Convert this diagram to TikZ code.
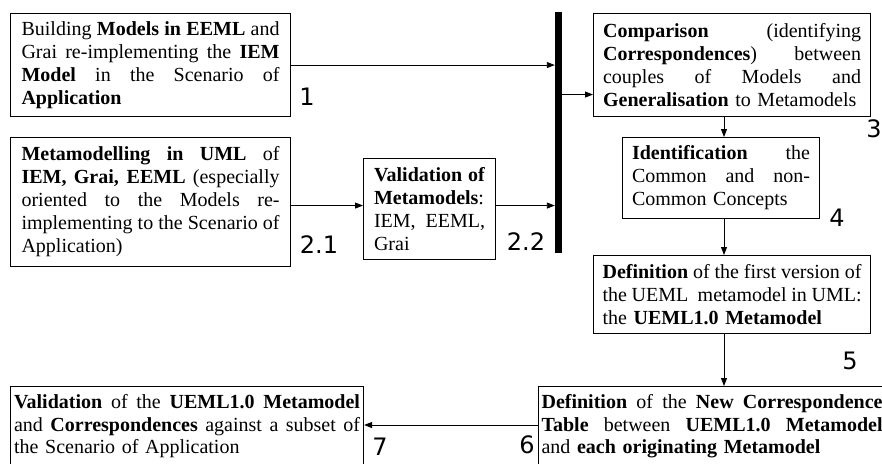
\documentclass[tikz,border=0pt]{standalone}
\usepackage{fontspec}
\setmainfont{Liberation Serif}
\newfontfamily\numfont{DejaVu Sans}
\usetikzlibrary{arrows.meta,calc}

% one justified line / one natural line inside a box (\tw = the box's text width)
\def\tw{100pt}
\newcommand\jl[1]{\hbox to\tw{\spaceskip=0pt\xspaceskip=0pt #1}}
\newcommand\nl[1]{\hbox{#1}}

\begin{document}
\begin{tikzpicture}[x=1pt,y=-1pt,
  stepbox/.style={draw=black, line width=1.1pt, anchor=north west, align=left,
    font=\fontsize{20}{23}\selectfont, inner ysep=2pt},
  boxw/.style={text width=#1, execute at begin node={\def\tw{#1}}},
  openbox/.style={inner ysep=8pt, font=\fontsize{20}{22.5}\selectfont, text depth=60pt},
  steplabel/.style={font=\numfont\fontsize{24}{24}\selectfont, inner sep=0pt},
  arr/.style={line width=0.9pt, -{Triangle[length=8pt,width=6pt]}}]
\useasboundingbox (0,0) rectangle (882,463);
\clip (0,0) rectangle (882,463);

% process steps
\node[stepbox, boxw=258pt, inner xsep=11pt, minimum width=280pt, minimum height=103pt] (b1) at (10,13) {%
\jl{Building \textbf{Models in EEML} and}
\jl{Grai re-implementing the \textbf{IEM}}
\jl{\textbf{Model} in the Scenario of}
\nl{\textbf{Application}}};

\node[stepbox, boxw=258pt, inner xsep=11pt, minimum width=280pt, minimum height=129pt] (b21) at (10,137) {%
\jl{\textbf{Metamodelling in UML} of}
\jl{\textbf{IEM, Grai, EEML} (especially}
\jl{oriented to the Models re-}
\jl{implementing to the Scenario of}
\nl{Application)}};

\node[stepbox, boxw=111pt, inner xsep=10.5pt, minimum width=132pt, minimum height=101pt] (b22) at (363,158) {%
\jl{\textbf{Validation of}}
\nl{\textbf{Metamodels}:}
\jl{IEM, EEML,}
\nl{Grai}};

\node[stepbox, boxw=258pt, inner xsep=9.5pt, minimum width=277pt, minimum height=103pt] (b3) at (593,13) {%
\jl{\textbf{Comparison} (identifying}
\jl{\textbf{Correspondences}) between}
\jl{couples of Models and}
\nl{\textbf{Generalisation} to Metamodels}};

\node[stepbox, boxw=178pt, inner xsep=9.5pt, minimum width=197pt, minimum height=81pt] (b4) at (622,137) {%
\jl{\textbf{Identification} the}
\jl{Common and non-}
\nl{Common Concepts}};

\node[stepbox, boxw=259pt, inner xsep=9pt, minimum width=277pt, minimum height=78pt] (b5) at (593,255) {%
\jl{\textbf{Definition} of the first version of}
\jl{the UEML\ \ metamodel in UML:}
\nl{the \textbf{UEML1.0 Metamodel}}};

% the two bottom boxes run on below the lower edge
\node[stepbox, openbox, boxw=341pt, inner xsep=3pt] (b6) at (538,386) {%
\jl{\textbf{Definition} of the \textbf{New Correspondence}}
\jl{\textbf{Table} between \textbf{UEML1.0 Metamodel}}
\nl{and \textbf{each originating Metamodel}}};

\node[stepbox, openbox, boxw=346pt, inner xsep=3.5pt] (b7) at (10,386) {%
\jl{\textbf{Validation} of the \textbf{UEML1.0 Metamodel}}
\jl{and \textbf{Correspondences} against a subset of}
\nl{the Scenario of Application}};

% synchronisation bar
\node[fill=black, minimum width=7pt, minimum height=241pt, inner sep=0pt] (bar) at (558.5,132.5) {};

% vertical flow line of the right column
\coordinate (sp) at (724,0);

% step numbers
\node[steplabel] (n1)  at (307,97)  {1};
\node[steplabel] (n21) at (319,245) {2.1};
\node[steplabel] (n22) at (526,242) {2.2};
\node[steplabel] (n3)  at (874,129) {3};
\node[steplabel] (n4)  at (837,218) {4};
\node[steplabel] (n5)  at (850,361) {5};
\node[steplabel] (n6)  at (527,445) {6};
\node[steplabel] (n7)  at (380,447) {7};

% connectors
\draw[arr] (b1.east) -- (b1.east -| bar.west);
\draw[arr] ([yshift=-3.5pt]b21.east) -- ([yshift=-3.5pt]b21.east -| b22.west);
\draw[arr] ([yshift=3.5pt]b22.east) -- ([yshift=3.5pt]b22.east -| bar.west);
\draw[arr] ([yshift=-29.5pt]b3.west -| bar.east) -- ([yshift=-29.5pt]b3.west);
\draw[arr] (b3.south -| sp) -- (b4.north -| sp);
\draw[arr] (b4.south -| sp) -- (b5.north -| sp);
\draw[arr] (b5.south -| sp) -- (b6.north -| sp);
\draw[arr] ([yshift=-39pt]b6.north west) -- ([yshift=-39pt]b6.north west -| b7.east);
\end{tikzpicture}
\end{document}
